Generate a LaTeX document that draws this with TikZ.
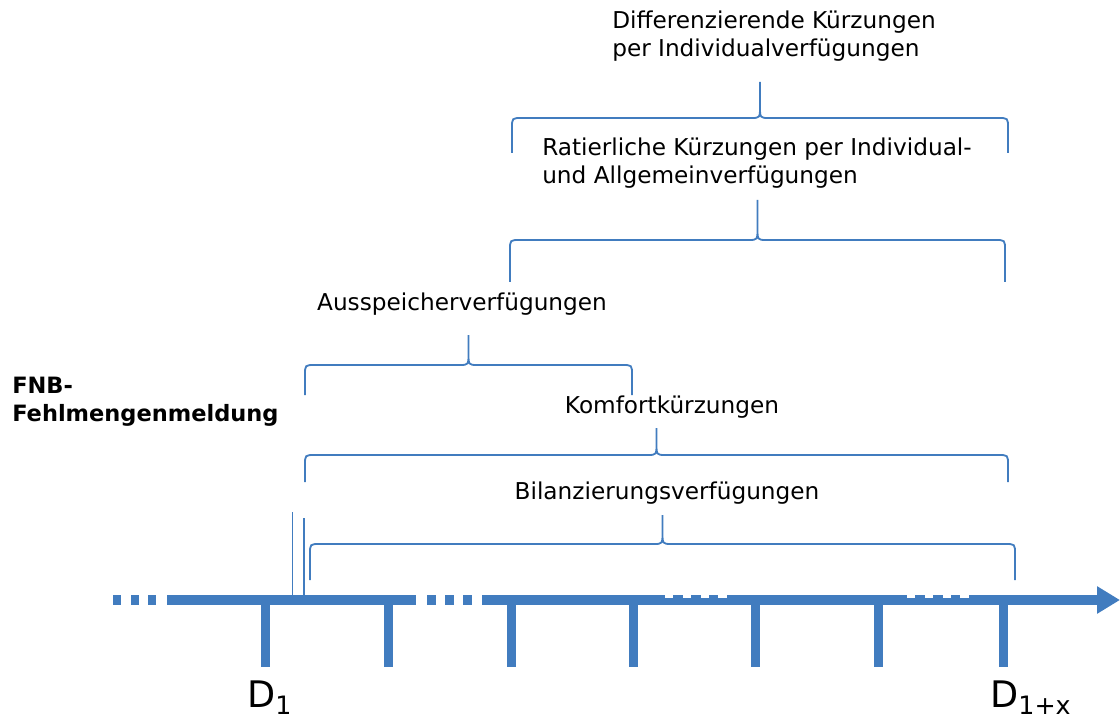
\documentclass[tikz,border=0pt]{standalone}
\usepackage{fontspec}
\setmainfont{DejaVu Sans}
\usetikzlibrary{arrows.meta,positioning}
\definecolor{axisblue}{RGB}{65,124,191}
\newcommand{\spanbrace}[5]{%
  \draw[bracepath] (#1,#3) -- (#1,#4+10) .. controls (#1,#4) .. (#1+10,#4)
    -- ({(#1+#2)/2-9},#4) .. controls ({(#1+#2)/2},#4) .. ({(#1+#2)/2},#4-12) -- ({(#1+#2)/2},#5)
    ({(#1+#2)/2},#4-12) .. controls ({(#1+#2)/2},#4) .. ({(#1+#2)/2+9},#4)
    -- (#2-10,#4) .. controls (#2,#4) .. (#2,#4+10) -- (#2,#3);}
\newcommand{\dsub}[1]{\raisebox{-5pt}{\fontsize{18}{18}\selectfont #1}}

\begin{document}
\begin{tikzpicture}[
    x=0.025cm, y=-0.025cm,
    axisline/.style={axisblue, line width=0.25cm},
    tickline/.style={axisblue, line width=0.225cm},
    bracepath/.style={axisblue, line width=0.045cm},
    markline/.style={axisblue, line width=0.045cm},
    notch/.style={white, line width=0.1cm, dash pattern=on 0.21cm off 0.235cm},
    lbl/.style={inner sep=0pt, font=\fontsize{16.5}{19.8}\selectfont, align=left},
    dlbl/.style={inner sep=0pt, font=\fontsize{26}{30}\selectfont}
]
    \useasboundingbox (0,0) rectangle (1120,722);

    \foreach \x in {113,131,148} \fill[axisblue] (\x,595) rectangle (\x+8,605);
    \draw[axisline] (167,600) -- (416,600);
    \foreach \x in {427,445,463} \fill[axisblue] (\x,595) rectangle (\x+9,605);
    \draw[axisline, -{Triangle[length=0.575cm, width=0.65cm]}] (482,600) -- (1120,600);
    \draw[notch] (665,596) -- (727,596);
    \draw[notch] (907,596) -- (970,596);

    \foreach \x [count=\i] in {265,388,511,633,755,878,1003} {
        \draw[tickline] (\x,600) -- (\x,667);
        \coordinate (t\i) at (\x,667);
    }
    \node[dlbl, below right=0.34cm and -0.45cm of t1] (d1) {D\dsub{1}};
    \node[dlbl, below right=0.34cm and -0.325cm of t7] (dx) {D\dsub{1+x}};

    \draw[markline] (292.5,512) -- (292.5,600);
    \draw[markline] (304,518) -- (304,600);

    \node[lbl, font=\fontsize{16}{19.8}\selectfont\bfseries, anchor=north west] (fnb) at (12,377) {FNB-\\Fehlmengenmeldung};

    \spanbrace{310}{1015}{580}{544}{515}
    \node[lbl, anchor=north] (bilanz) at (667,482) {Bilanzierungsverfügungen};
    \spanbrace{305}{1008}{482}{455}{428}
    \node[lbl, anchor=north] (komfort) at (672,396) {Komfortkürzungen};
    \spanbrace{305}{632}{395}{365}{335}
    \node[lbl, anchor=north] (aussp) at (462,293) {Ausspeicherverfügungen};
    \spanbrace{510}{1005}{282}{240}{200}
    \node[lbl, anchor=north west] (ratier) at (542,138) {Ratierliche Kürzungen per Individual-\\und Allgemeinverfügungen};
    \spanbrace{512}{1008}{153}{118}{82}
    \node[lbl, anchor=north west] (diff) at (612,11) {Differenzierende Kürzungen\\per Individualverfügungen};
\end{tikzpicture}
\end{document}
